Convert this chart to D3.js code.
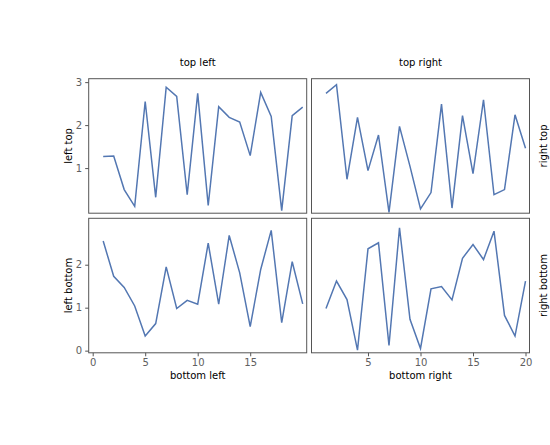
<!DOCTYPE html>
<html>
<head>
<meta charset="utf-8">
<script src="https://cdn.jsdelivr.net/npm/d3@7"></script>
<style>
  body { margin: 0; background: #fff; }
  svg { font-family: "DejaVu Sans", sans-serif; }
  .tick text { fill: #606060; font-size: 10px; }
  .tick line { stroke: #555; }
  .lab { font-size: 10px; fill: #000; }
</style>
</head>
<body>
<div id="chart"></div>
<script>
// x values shared by every panel
var xs = d3.range(1, 21);

// series values
var topLeft = [1.27, 1.28, 0.50, 0.11, 2.55, 0.32, 2.88, 2.67, 0.38, 2.74,
               0.13, 2.43, 2.18, 2.07, 1.29, 2.76, 2.20, 0.01, 2.22, 2.42];
var topRight = [2.74, 2.94, 0.74, 2.18, 0.94, 1.77, -0.03, 1.97, 1.04, 0.05,
                0.43, 2.49, 0.07, 2.22, 0.87, 2.59, 0.38, 0.50, 2.24, 1.46];
var bottomLeft = [2.55, 1.73, 1.47, 1.04, 0.34, 0.63, 1.95, 0.98, 1.17, 1.08,
                  2.50, 1.08, 2.68, 1.81, 0.56, 1.89, 2.80, 0.65, 2.07, 1.09];
var bottomRight = [0.98, 1.62, 1.19, 0.01, 2.37, 2.51, 0.12, 2.86, 0.73, 0.05,
                   1.44, 1.49, 1.18, 2.15, 2.47, 2.12, 2.78, 0.82, 0.34, 1.62];

// tick labels
var yTicksTop = [1, 2, 3];
var yTicksBottom = [0, 1, 2];
var xTicksLeft = [0, 5, 10, 15];
var xTicksRight = [5, 10, 15, 20];

var titles = ["top left", "top right"];
var rowLabels = ["left top", "left bottom", "right top", "right bottom"];
var colLabels = ["bottom left", "bottom right"];

var svgWidth = 550, svgHeight = 445;
var panelW = 218, panelH = 134.5;
var colX = [88.7, 311.5];
var rowY = [78.7, 218.3];

var x = d3.scaleLinear().domain([-0.38, 20.38]).range([0, panelW]);
var y = d3.scaleLinear().domain([-0.05, 3.08]).range([panelH, 0]);

var svg = d3.select("#chart").append("svg")
    .attr("width", svgWidth)
    .attr("height", svgHeight);

var line = d3.line()
    .x(function(d, i) { return x(xs[i]); })
    .y(function(d) { return y(d); });

var panels = [
    { r: 0, c: 0, data: topLeft },
    { r: 0, c: 1, data: topRight },
    { r: 1, c: 0, data: bottomLeft },
    { r: 1, c: 1, data: bottomRight }
];

svg.append("defs").append("clipPath")
    .attr("id", "clip")
  .append("rect")
    .attr("width", panelW)
    .attr("height", panelH);

panels.forEach(function(p) {
    var g = svg.append("g")
        .attr("transform", "translate(" + colX[p.c] + "," + rowY[p.r] + ")");

    // data line
    g.append("path")
        .datum(p.data)
        .attr("clip-path", "url(#clip)")
        .attr("fill", "none")
        .attr("stroke", "#5377b2")
        .attr("stroke-width", 1.5)
        .attr("d", line);

    // frame
    g.append("rect")
        .attr("width", panelW)
        .attr("height", panelH)
        .attr("fill", "none")
        .attr("stroke", "#555")
        .attr("stroke-width", 1);

    // y axis only on left column
    if (p.c === 0) {
        var ya = g.append("g")
            .call(d3.axisLeft(y).tickValues(p.r === 0 ? yTicksTop : yTicksBottom)
                .tickSize(3.5).tickPadding(3).tickFormat(d3.format("d")));
        ya.select(".domain").remove();
        ya.selectAll("text").style("font-family", "DejaVu Sans");
    }

    // x axis only on bottom row
    if (p.r === 1) {
        var xa = g.append("g")
            .attr("transform", "translate(0," + panelH + ")")
            .call(d3.axisBottom(x).tickValues(p.c === 0 ? xTicksLeft : xTicksRight)
                .tickSize(3.5).tickPadding(3).tickFormat(d3.format("d")));
        xa.select(".domain").remove();
        xa.selectAll("text").style("font-family", "DejaVu Sans");
        g.append("text")
            .attr("class", "lab")
            .attr("x", panelW / 2)
            .attr("y", panelH + 26.5)
            .attr("text-anchor", "middle")
            .text(colLabels[p.c]);
    }

    // titles on top row
    if (p.r === 0) {
        g.append("text")
            .attr("class", "lab")
            .attr("x", panelW / 2)
            .attr("y", -13)
            .attr("text-anchor", "middle")
            .text(titles[p.c]);
    }

    // row labels: left side for left column, right side for right column
    var lx = p.c === 0 ? -20.7 : panelW + 13.5;
    g.append("text")
        .attr("class", "lab")
        .attr("transform", "translate(" + lx + "," + (panelH / 2) + ") rotate(-90)")
        .attr("text-anchor", "middle")
        .attr("dy", "0.35em")
        .text(rowLabels[p.c * 2 + p.r]);
});
</script>
</body>
</html>
